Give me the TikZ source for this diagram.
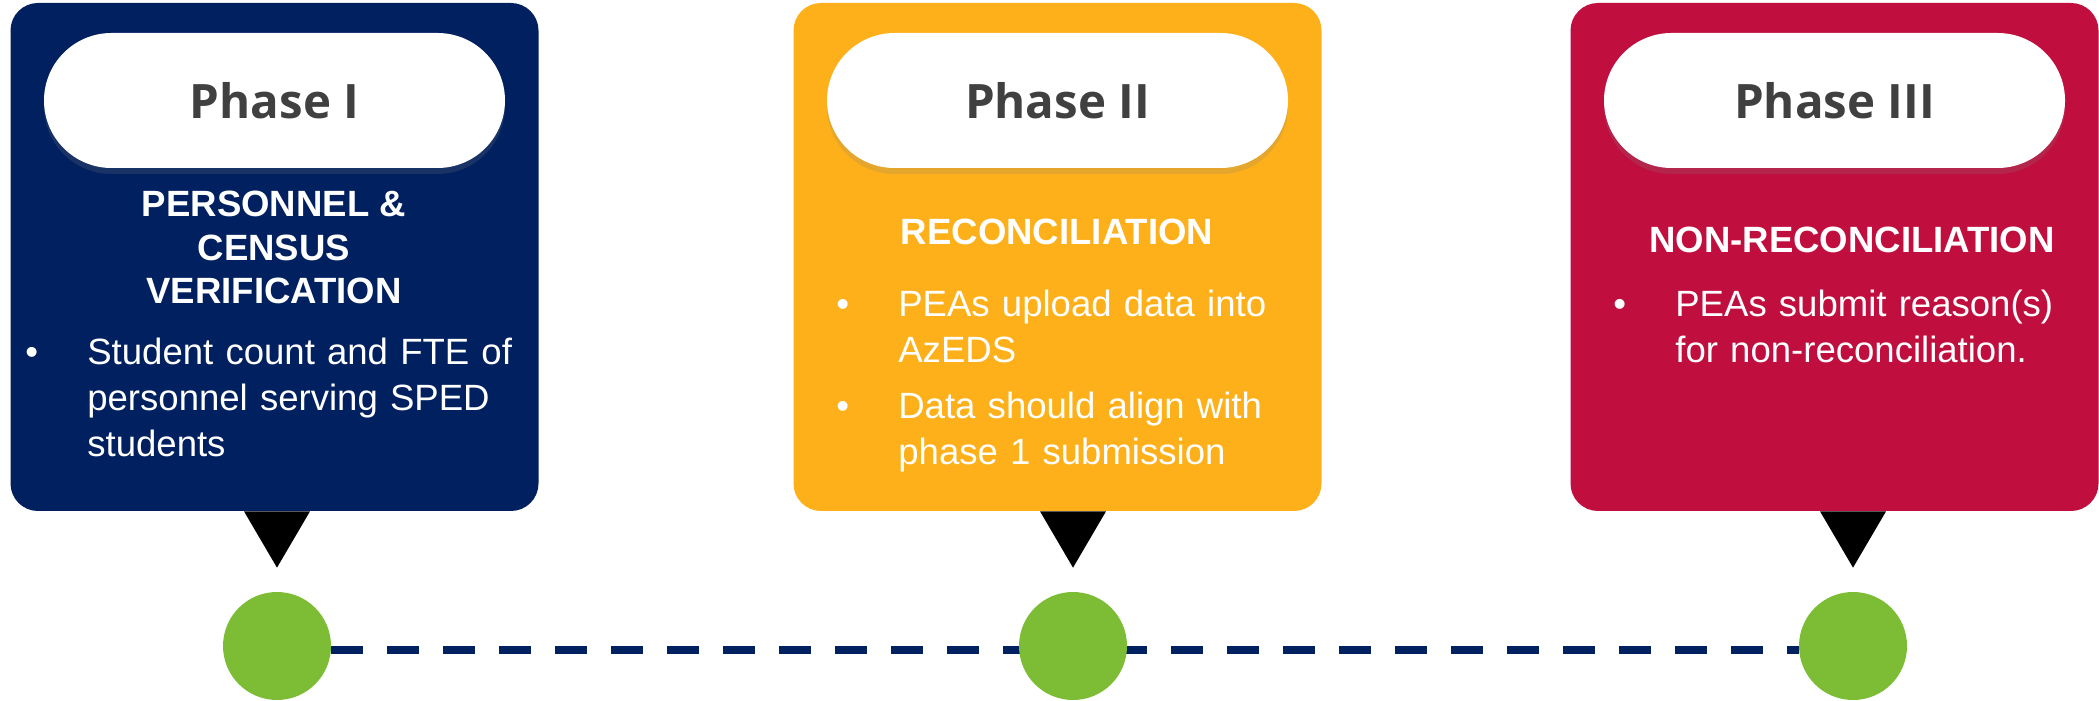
\documentclass[tikz,border=0pt]{standalone}
\usepackage{fontspec}
\setmainfont{Liberation Sans}
\newfontfamily\phasefont{Open Sans}
\usetikzlibrary{positioning,calc,shadows,backgrounds}
\definecolor{navy}{HTML}{002060}
\definecolor{amber}{HTML}{FDB019}
\definecolor{crimson}{HTML}{C00F3E}
\definecolor{dotgreen}{HTML}{7CBD35}
\definecolor{titlegray}{HTML}{404040}
\newcommand{\bul}[1]{{\leftskip=1.24cm\noindent\llap{\makebox[1.24cm][l]{\textbullet}}#1\par}}

\begin{document}
\begin{tikzpicture}[
  phasebox/.style={rounded corners=0.55cm,minimum width=10.56cm,minimum height=10.16cm},
  pill/.style={fill=white,rounded corners=1.35cm,minimum width=9.22cm,minimum height=2.7cm,text=titlegray,
    font=\phasefont\bfseries\fontsize{27pt}{30pt}\selectfont,
    drop shadow={shadow xshift=0pt,shadow yshift=-0.12cm,opacity=0.2}},
  heading/.style={text=white,align=center,anchor=base,font=\bfseries\fontsize{20.8pt}{25pt}\selectfont},
  bullets/.style={text=white,text width=10cm,align=left,anchor=base west,inner sep=0pt,
    font=\fontsize{20.8pt}{26pt}\selectfont,execute at begin node={\setlength{\parskip}{0.2cm}}},
  dot/.style={circle,fill=dotgreen,minimum size=2.16cm,inner sep=0pt},
  link/.style={navy,line width=0.16cm,dash pattern=on 0.64cm off 0.48cm},
]
  \useasboundingbox (0,0) rectangle (41.98,14);

  % Phase I
  \node[phasebox,fill=navy] (box1) at (5.49,8.86) {};
  \node[pill,below=0.6cm of box1.north] (pill1) {Phase I};
  \node[heading] (head1) at (5.48,7.92) {PERSONNEL \&\\CENSUS\\VERIFICATION};
  \node[bullets] (text1) at (0.5,6.7) {\bul{Student count and FTE of\\personnel serving SPED\\students}};

  % Phase II
  \node[phasebox,fill=amber] (box2) at (21.15,8.86) {};
  \node[pill,below=0.6cm of box2.north] (pill2) {Phase II};
  \node[heading] (head2) at (21.14,9.1) {RECONCILIATION};
  \node[bullets] (text2) at (16.72,7.66) {\bul{PEAs upload data into\\AzEDS}\bul{Data should align with\\phase 1 submission}};

  % Phase III
  \node[phasebox,fill=crimson] (box3) at (36.69,8.86) {};
  \node[pill,below=0.6cm of box3.north] (pill3) {Phase III};
  \node[heading] (head3) at (37.04,8.94) {NON-RECONCILIATION};
  \node[bullets] (text3) at (32.26,7.66) {\bul{PEAs submit reason(s)\\for non-reconciliation.}};

  % Timeline dots
  \node[dot] (dot1) at (5.54,1.08) {};
  \node[dot] (dot2) at (21.46,1.08) {};
  \node[dot] (dot3) at (37.06,1.08) {};

  % Pointers
  \fill ($(box1.south -| dot1)+(-0.66,0)$) -- ($(box1.south -| dot1)+(0.66,0)$) -- ($(dot1.north)+(0,0.48)$) -- cycle;
  \fill ($(box2.south -| dot2)+(-0.66,0)$) -- ($(box2.south -| dot2)+(0.66,0)$) -- ($(dot2.north)+(0,0.48)$) -- cycle;
  \fill ($(box3.south -| dot3)+(-0.66,0)$) -- ($(box3.south -| dot3)+(0.66,0)$) -- ($(dot3.north)+(0,0.48)$) -- cycle;

  % Dashed timeline, behind the dots
  \begin{pgfonlayer}{background}
    \draw[link] ([yshift=-0.08cm]dot1.east) -- ([yshift=-0.08cm]dot3.west);
  \end{pgfonlayer}
\end{tikzpicture}
\end{document}
